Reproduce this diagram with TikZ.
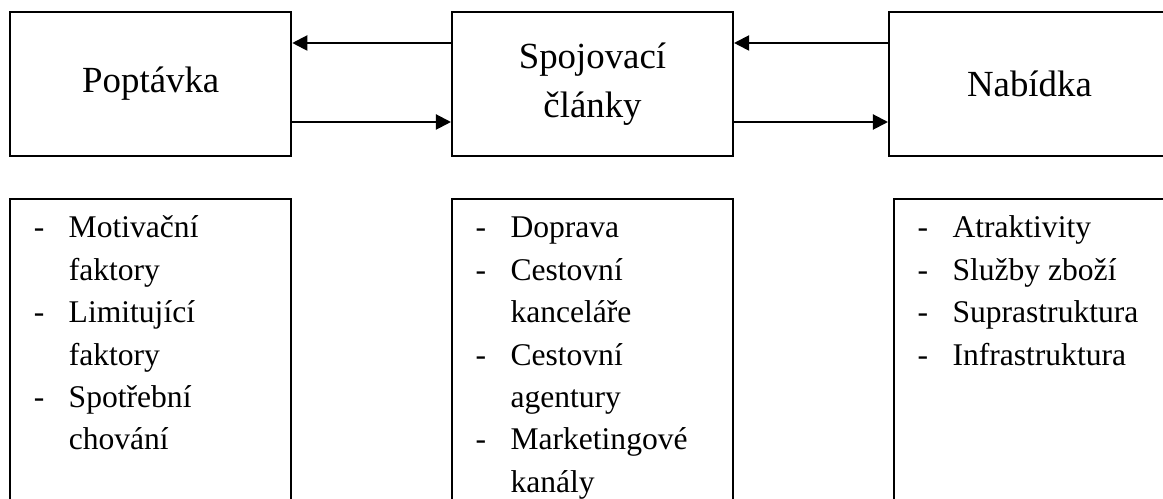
\documentclass[tikz,border=0pt]{standalone}
\usepackage{fontspec}
\setmainfont{Liberation Serif}
\usetikzlibrary{arrows.meta,calc}
\tikzset{
  headbox/.style={draw, line width=0.76pt, minimum width=106.8pt, minimum height=54.7pt,
    align=center, inner sep=0pt, font=\fontsize{14}{18.6}\selectfont},
  listbox/.style={draw, line width=0.76pt, minimum width=106.8pt, minimum height=125pt,
    anchor=north, inner sep=0pt},
  listtext/.style={anchor=base west, inner sep=0pt, font=\fontsize{12}{16.1}\selectfont},
  flow/.style={line width=0.76pt, -{Triangle[length=5.7pt,width=5.7pt]}}
}
\newcommand{\dashlist}[1]{\begin{tabular}[t]{@{}p{13.3pt}@{}l@{}}#1\end{tabular}}
\begin{document}
\begin{tikzpicture}[x=0.38pt,y=-0.38pt]
      \useasboundingbox (0,0) rectangle (1163,499);
      \clip (0,0) rectangle (1163,499);
      \node[headbox] (dem) at (150.75,84) {Poptávka};
      \node[headbox] (link) at (592.5,84) {Spojovací\\články};
      \node[headbox] (sup) at (1029.5,84) {Nabídka};
      \node[listbox] (demlist) at (150.75,198) {};
      \node[listbox] (linklist) at (592.5,198) {};
      \node[listbox] (suplist) at (1034.5,198) {};
      \node[listtext] (demitems) at ($(demlist.north west)+(24,40)$)
        {\dashlist{-&Motivační\\&faktory\\-&Limitující\\&faktory\\-&Spotřební\\&chování}};
      \node[listtext] (linkitems) at ($(linklist.north west)+(24,40)$)
        {\dashlist{-&Doprava\\-&Cestovní\\&kanceláře\\-&Cestovní\\&agentury\\-&Marketingové\\&kanály}};
      \node[listtext] (supitems) at ($(suplist.north west)+(24,40)$)
        {\dashlist{-&Atraktivity\\-&Služby zboží\\-&Suprastruktura\\-&Infrastruktura}};
      \begin{scope}[flow]
        \draw ($(link.west)+(0,-41)$) to ($(dem.east)+(0,-41)$);
        \draw ($(dem.east)+(0,38)$) to ($(link.west)+(0,38)$);
        \draw ($(sup.west)+(0,-41)$) to ($(link.east)+(0,-41)$);
        \draw ($(link.east)+(0,38)$) to ($(sup.west)+(0,38)$);
      \end{scope}
    \end{tikzpicture}
\end{document}
